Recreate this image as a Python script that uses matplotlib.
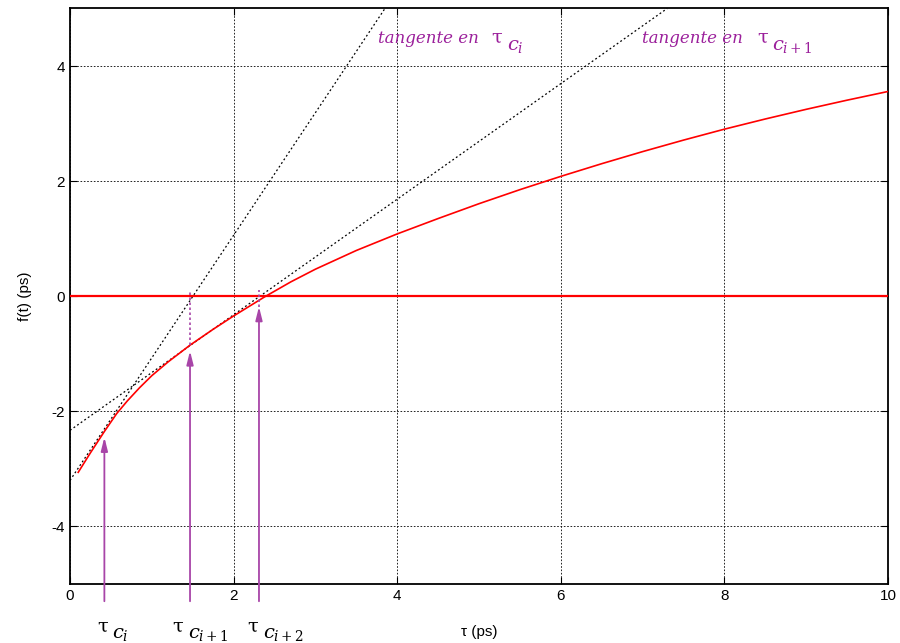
import matplotlib
matplotlib.use("Agg")
import matplotlib.pyplot as plt

plt.rcParams['axes.unicode_minus'] = False
plt.rcParams['mathtext.fontset'] = 'dejavuserif'

# Curve f(tau)
tau = [0.1, 0.25, 0.42, 0.57, 0.7, 0.85, 1.0, 1.2, 1.467, 1.75, 2.0, 2.38, 2.7,
       3.0, 3.5, 4.0, 4.5, 5.0, 5.5, 6.0, 6.5, 7.0, 7.5, 8.0, 8.5, 9.0, 9.5, 10.0]
f_tau = [-3.06, -2.72, -2.35, -2.04, -1.82, -1.59, -1.38, -1.14, -0.85, -0.574, -0.343, -0.01, 0.25,
         0.47, 0.795, 1.083, 1.35, 1.608, 1.852, 2.083, 2.303, 2.513, 2.713, 2.903, 3.08, 3.248, 3.407, 3.558]

# Tangent lines (end points)
tan1_x = [0.0, 3.85]
tan1_y = [-3.2, 5.0]
tan2_x = [0.0, 7.3]
tan2_y = [-2.33, 5.0]

# Newton iterates
iter_x = [0.42, 1.467, 2.31]
iter_tip = [-2.45, -0.95, -0.18]
iter_label_x = [0.33, 1.25, 2.17]
iter_subs = ['i', 'i+1', 'i+2']

xticks = [0, 2, 4, 6, 8, 10]
yticks = [-4, -2, 0, 2, 4]

purple = '#9b1f9b'
arrow_col = '#a845a8'

fig = plt.figure(figsize=(9, 6.43), dpi=100)
ax = fig.add_axes([0.0778, 0.0918, 0.9089, 0.895])
ax.set_xlim(0, 10)
ax.set_ylim(-5, 5)
ax.set_xticks(xticks)
ax.set_yticks(yticks)
ax.tick_params(direction='in', top=True, right=True, length=5, labelsize=11)
for lbl in ax.get_xticklabels() + ax.get_yticklabels():
    lbl.set_family('Liberation Sans')
ax.grid(True, color='black', linestyle=(0, (2, 2)), linewidth=0.6)
for s in ax.spines.values():
    s.set_linewidth(1.3)


def tau_label(x, y, sub, color):
    ax.annotate('τ', xy=(x, y), xycoords='data', fontsize=14, color=color,
                family='DejaVu Serif', ha='left', va='baseline', annotation_clip=False)
    ax.annotate(r'$c_{%s}$' % sub, xy=(x, y), xycoords='data', xytext=(11, -5),
                textcoords='offset points', fontsize=14, color=color,
                ha='left', va='baseline', annotation_clip=False)


ax.plot(tan1_x, tan1_y, color='black', linestyle=(0, (1.5, 2)), linewidth=0.9, zorder=3)
ax.plot(tan2_x, tan2_y, color='black', linestyle=(0, (1.5, 2)), linewidth=0.9, zorder=3)
ax.axhline(0, color='red', linewidth=1.6, zorder=4)
ax.plot(tau, f_tau, color='red', linewidth=1.2, zorder=4)

# dotted vertical extensions
ax.plot([iter_x[1], iter_x[1]], [-0.85, 0.1], color=arrow_col, linestyle=(0, (1.5, 1.5)), linewidth=1.2, zorder=5)
ax.plot([iter_x[2], iter_x[2]], [-0.18, 0.1], color=arrow_col, linestyle=(0, (1.5, 1.5)), linewidth=1.2, zorder=5)

for xv, tip, lx, sub in zip(iter_x, iter_tip, iter_label_x, iter_subs):
    ax.annotate('', xy=(xv, tip), xytext=(xv, -5.3), annotation_clip=False,
                arrowprops=dict(arrowstyle='-|>,head_length=0.8,head_width=0.2',
                                color=arrow_col, lw=1.3, shrinkA=0, shrinkB=0,
                                mutation_scale=10), zorder=6)
    tau_label(lx, -5.82, sub, 'black')

ax.text(3.77, 4.4, 'tangente en', fontsize=12, color=purple, style='italic',
        family='DejaVu Serif', va='baseline')
tau_label(5.15, 4.4, 'i', purple)
ax.text(6.99, 4.4, 'tangente en', fontsize=12, color=purple, style='italic',
        family='DejaVu Serif', va='baseline')
tau_label(8.4, 4.4, 'i+1', purple)

ax.set_xlabel('τ (ps)', fontsize=11, family='Liberation Sans', labelpad=16)
ax.set_ylabel('f(t) (ps)', fontsize=11, family='Liberation Sans', labelpad=14)

fig.savefig('out.png', dpi=100)
